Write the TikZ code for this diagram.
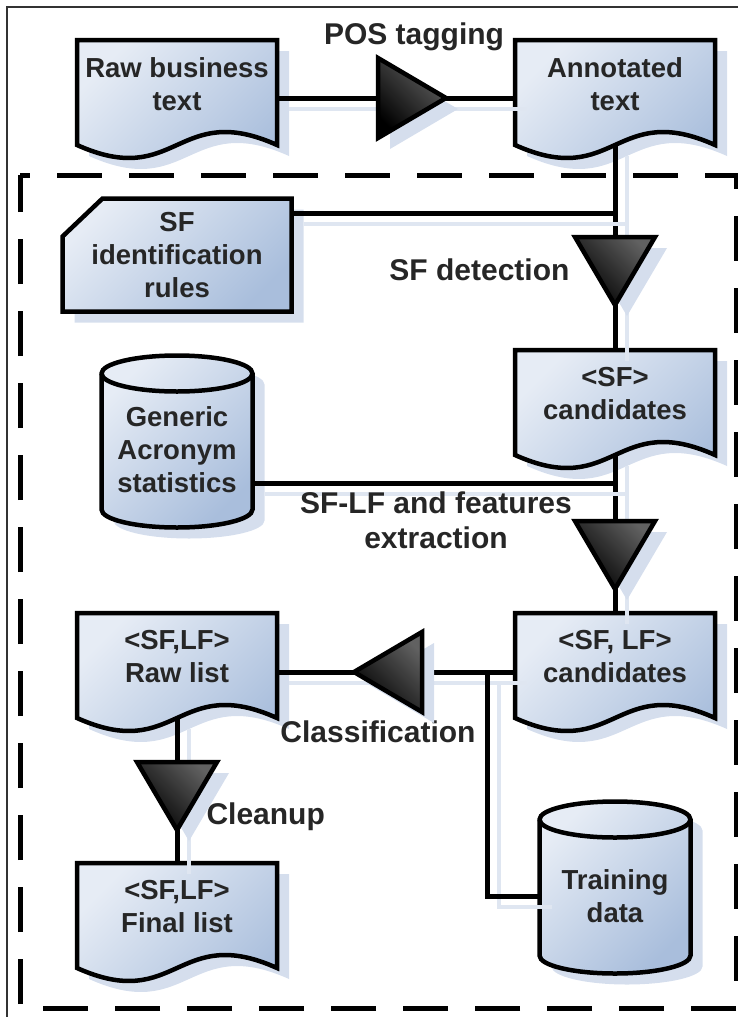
\documentclass[tikz,border=0pt]{standalone}
\usepackage{fontspec}
\setmainfont{Liberation Sans}
\usepackage{tikz}
\usetikzlibrary{positioning,calc,shadows}
\definecolor{boxlight}{HTML}{E6ECF5}
\definecolor{boxdark}{HTML}{A9BEDC}
\definecolor{shadowblue}{HTML}{D5DEED}
\definecolor{lineshadow}{HTML}{DFE6F1}
\definecolor{textgray}{HTML}{262626}
\pgfdeclarelayer{background}
\pgfsetlayers{background,main}
\tikzset{flow/.style={x=1pt,y=1pt,line join=miter},
    boxtext/.style={align=center,inner sep=0,outer sep=0,text=textgray,font=\fontsize{27.5}{33}\selectfont\bfseries},
    docbox/.style={boxtext,minimum width=200pt,minimum height=88pt},
    cardbox/.style={boxtext,minimum width=229pt,minimum height=113pt},
    cylbox/.style={boxtext,minimum width=151pt,minimum height=119pt},
    stepname/.style={align=center,text=textgray,font=\fontsize{30}{35}\selectfont\bfseries},
    boxshade/.style={draw=black,line width=4.5pt,left color=boxlight,right color=boxdark,shading angle=45,
        drop shadow={shadow xshift=12pt,shadow yshift=-11pt,fill=shadowblue,opacity=1}},
    boxline/.style={draw=black,line width=4.5pt},
    conn/.style={line width=5pt,preaction={draw=lineshadow,line width=3.5pt,transform canvas={shift={(12pt,-11pt)}}}},
    tri/.style={draw=black,line width=4.5pt,left color=black,right color=black!62,shading angle=135,
        drop shadow={shadow xshift=12pt,shadow yshift=-11pt,fill=shadowblue,opacity=1}},
    mergeright/.pic={\path[tri] (-34,40) -- (34,0) -- (-34,-40) -- cycle;},
    mergedown/.pic={\path[tri] (-40,34) -- (40,34) -- (0,-34) -- cycle;},
    mergeleft/.pic={\path[tri] (34,40) -- (-34,0) -- (34,-40) -- cycle;},
    frame/.style={line width=5pt,dash pattern=on 45pt off 27pt,dash phase=35pt}}

% outlines drawn round the named text nodes
\newcommand{\docpath}[1]{\path[boxshade] (#1.north west) -- (#1.north east) -- ([yshift=-17pt]#1.south east)
    .. controls ([yshift=28pt]#1.south) and ([yshift=-62pt]#1.south) .. ([yshift=-17pt]#1.south west) -- cycle;}
\newcommand{\cardpath}[1]{\path[boxshade] ([yshift=-38pt]#1.north west) -- ([xshift=40pt]#1.north west)
    -- (#1.north east) -- (#1.south east) -- (#1.south west) -- cycle;}
\newcommand{\cylpath}[1]{\path[boxshade] ([yshift=17pt]#1.north west) -- (#1.south west)
    arc[start angle=180,end angle=360,x radius=75.5pt,y radius=18pt] -- ([yshift=17pt]#1.north east)
    arc[start angle=0,end angle=180,x radius=75.5pt,y radius=18pt] -- cycle;
    \draw[boxline] ([yshift=17pt]#1.north west) arc[start angle=180,end angle=360,x radius=75.5pt,y radius=18pt];}

\begin{document}
\begin{tikzpicture}[flow, node distance=438pt]
\useasboundingbox (0,0) rectangle (738,-1017);
\draw[line width=1.2pt,black!80] (7,-1017) -- (7,-7) -- (738,-7);
\draw[frame] (20,-175) -- (736,-175) -- (736,-1008) -- (20,-1008) -- cycle;

% boxes
\node[docbox](raw) at (177,-84) {Raw business\\text};
\node[docbox](annot)[right of=raw]{Annotated\\text};
\node[cardbox](rules) at (177,-255) {SF\\identification\\rules};
\node[docbox](sfc)[below of=annot, node distance=310pt]{<SF>\\candidates};
\node[cylbox](gen) at (177,-450) {Generic\\Acronym\\statistics};
\node[docbox](sflf)[below of=sfc, node distance=263pt]{<SF, LF>\\candidates};
\node[docbox](rawlist)[left of=sflf]{<SF,LF>\\Raw list};
\node[docbox](final)[below of=rawlist, node distance=250pt]{<SF,LF>\\Final list};
\node[cylbox](train) at (615,-896) {Training\\data};

\begin{pgfonlayer}{background}
    \foreach \bx in {raw,annot,sfc,sflf,rawlist,final} {\docpath{\bx}}
    \cardpath{rules}
    \cylpath{gen}
    \cylpath{train}
\end{pgfonlayer}

% connectors
\draw[conn] ([yshift=-14pt]raw.east) -- ([yshift=-14pt]annot.west);
\draw[conn] ([yshift=-17pt]annot.south) -- (sfc.north);
\draw[conn] ([yshift=42pt]rules.east) -- ([yshift=42pt]rules.east -| annot.south);
\draw[conn] ([yshift=-17pt]sfc.south) -- (sflf.north);
\draw[conn] ([yshift=-33pt]gen.east) -- ([yshift=-33pt]gen.east -| sfc.south);
\draw[conn] ([yshift=-15pt]sflf.west) -- ([yshift=-15pt]rawlist.east);
\draw[conn] ([xshift=-28pt,yshift=-15pt]sflf.west) |- (train.west);
\draw[conn] ([yshift=-17pt]rawlist.south) -- (final.north);

% steps
\node[stepname](postag) at (414,-37) {POS tagging};
\node[stepname,anchor=east](sfdet) at (573,-270) {SF detection};
\node[stepname](extract) at (436,-520) {SF-LF and features\\extraction};
\node[stepname](classif) at (378,-732) {Classification};
\node[stepname,anchor=west](clean) at (203,-817) {Cleanup};

\pic at (412,-98) {mergeright};
\pic at (615,-271) {mergedown};
\pic at (615,-555) {mergedown};
\pic at (388,-672) {mergeleft};
\pic at (177,-796) {mergedown};
\end{tikzpicture}
\end{document}
